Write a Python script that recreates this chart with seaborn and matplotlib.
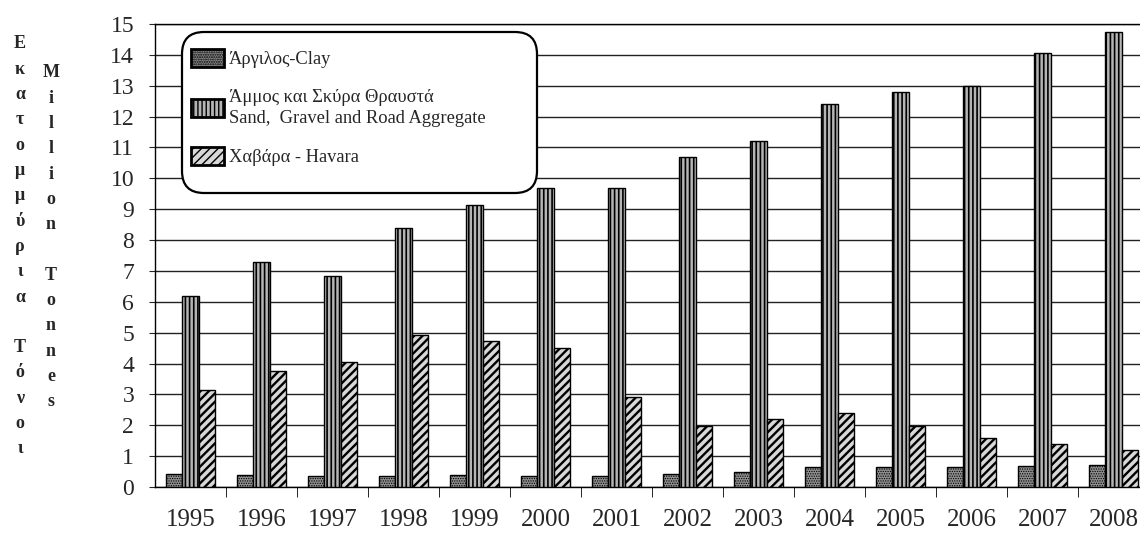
import pandas as pd
import seaborn as sns
import matplotlib.pyplot as plt
from matplotlib.patches import FancyBboxPatch

# values (million tonnes)
years = [1995, 1996, 1997, 1998, 1999, 2000, 2001, 2002, 2003, 2004, 2005, 2006, 2007, 2008]
clay = [0.42, 0.38, 0.35, 0.35, 0.38, 0.35, 0.35, 0.42, 0.50, 0.64, 0.64, 0.64, 0.67, 0.70]
sand = [6.2, 7.3, 6.85, 8.4, 9.15, 9.7, 9.7, 10.7, 11.2, 12.4, 12.8, 13.0, 14.05, 14.75]
havara = [3.15, 3.75, 4.05, 4.92, 4.72, 4.5, 2.9, 1.97, 2.2, 2.4, 1.97, 1.6, 1.4, 1.2]

series_names = ["Άργιλος-Clay",
                "Άμμος και Σκύρα Θραυστά\nSand,  Gravel and Road Aggregate",
                "Χαβάρα - Havara"]
ylabel_gr = "Εκατομμύρια Τόνοι"
ylabel_en = "Million Tonnes"

sns.set_style("white")
plt.rcParams['font.family'] = ['Liberation Serif', 'DejaVu Serif']

df = pd.concat([
    pd.DataFrame({'year': years, 'value': vals, 'type': name})
    for name, vals in zip(series_names, [clay, sand, havara])
])

W, H = 1140, 538
fig = plt.figure(figsize=(W / 100, H / 100), dpi=100)
ax = fig.add_axes([155 / W, 1 - 487 / H, 994 / W, 463 / H])

sns.barplot(data=df, x='year', y='value', hue='type', ax=ax,
            width=0.68, gap=0, edgecolor='black', linewidth=1.0,
            palette=['#8e8e8e', '#b5b5b5', '#d8d8d8'], legend=False, zorder=3)

hatches = ['.......', '||||', '////']
hatch_lw = [0.6, 1.2, 1.7]
for cont, h, lw in zip(ax.containers, hatches, hatch_lw):
    for p in cont.patches:
        p.set_hatch(h)
        if hasattr(p, 'set_hatch_linewidth'):
            p.set_hatch_linewidth(lw)

ax.set_ylim(0, 15)
ax.set_xlim(-0.5, len(years) - 0.5)
ax.set_yticks(range(0, 16))
ax.yaxis.grid(True, color='#222222', linewidth=1.0)
ax.set_axisbelow(True)
for s in ['left', 'bottom', 'top']:
    ax.spines[s].set_color('black')
    ax.spines[s].set_linewidth(1.0)
ax.spines['right'].set_visible(False)

ax.tick_params(axis='y', labelsize=17, length=4, direction='out', pad=11, left=True)
ax.tick_params(axis='x', which='major', labelsize=18, length=0, pad=16)
ax.set_xticks([i + 0.5 for i in range(len(years))], minor=True)
ax.tick_params(axis='x', which='minor', length=7, direction='out', bottom=True, color='black')
ax.set_xlabel('')
ax.set_ylabel('')

# rounded legend box (figure inches)
box = FancyBboxPatch((1.82, (H - 193) / 100), 3.55, 1.61,
                     boxstyle='round,pad=0,rounding_size=0.22',
                     transform=fig.dpi_scale_trans, facecolor='white',
                     edgecolor='black', linewidth=1.6, zorder=4, clip_on=False)
ax.add_patch(box)

leg = ax.legend(ax.containers, series_names, loc='upper left',
                bbox_to_anchor=(191 / W, 1 - 49 / H), bbox_transform=fig.transFigure,
                fontsize=13.3, frameon=False, handlelength=1.8, handleheight=1.15,
                handletextpad=0.25, labelspacing=1.1, borderpad=0, borderaxespad=0)
leg.set_zorder(5)
for t in leg.get_texts():
    t.set_linespacing(1.3)
for hdl in leg.legend_handles:
    hdl.set_linewidth(2.0)

# stacked vertical axis titles
step = 25.3
for i, ch in enumerate(ylabel_gr):
    fig.text(20 / W, 1 - (44 + i * step) / H, ch, ha='center', va='center',
             fontsize=13, fontweight='bold')
for i, ch in enumerate(ylabel_en):
    fig.text(51 / W, 1 - (73 + i * step) / H, ch, ha='center', va='center',
             fontsize=13, fontweight='bold')

fig.savefig('out.png', dpi=100)
